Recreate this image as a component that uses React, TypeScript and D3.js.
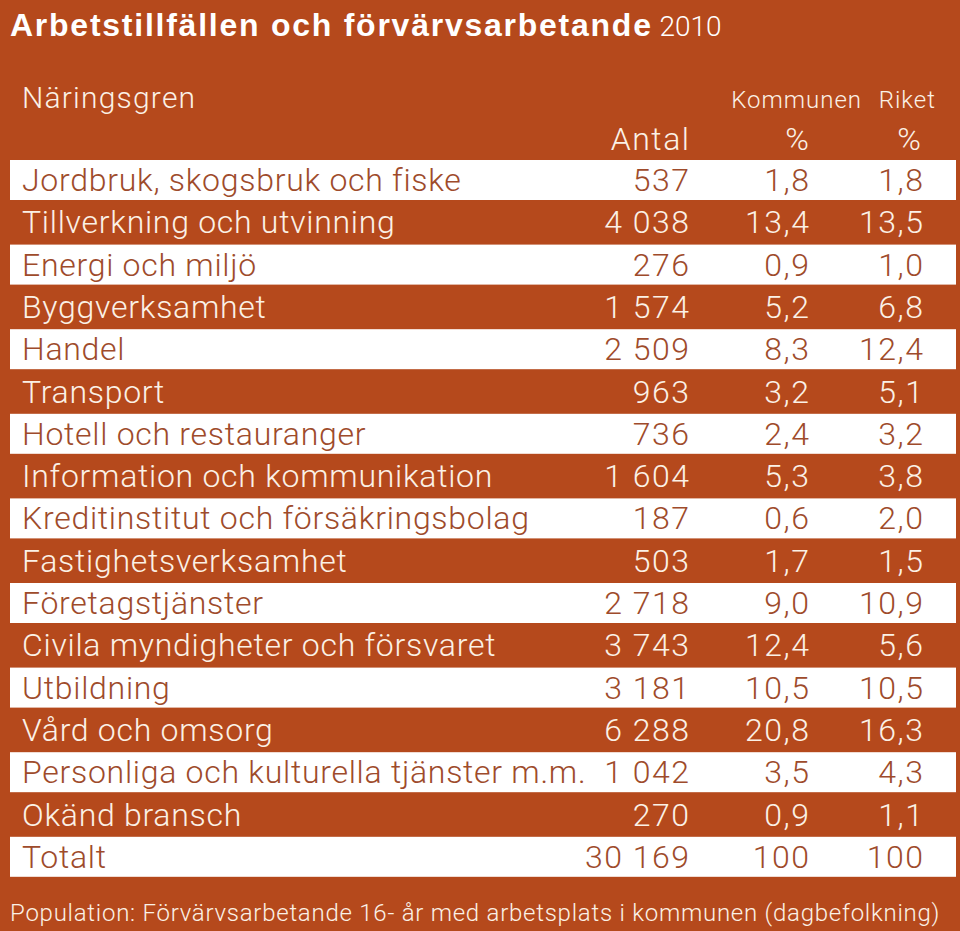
import React from "react";
import * as d3 from "d3";

const categories = [
  "Jordbruk, skogsbruk och fiske",
  "Tillverkning och utvinning",
  "Energi och miljö",
  "Byggverksamhet",
  "Handel",
  "Transport",
  "Hotell och restauranger",
  "Information och kommunikation",
  "Kreditinstitut och försäkringsbolag",
  "Fastighetsverksamhet",
  "Företagstjänster",
  "Civila myndigheter och försvaret",
  "Utbildning",
  "Vård och omsorg",
  "Personliga och kulturella tjänster m.m.",
  "Okänd bransch",
  "Totalt",
];
const antal = [537, 4038, 276, 1574, 2509, 963, 736, 1604, 187, 503, 2718, 3743, 3181, 6288, 1042, 270, 30169];
const kommunenPct = [1.8, 13.4, 0.9, 5.2, 8.3, 3.2, 2.4, 5.3, 0.6, 1.7, 9.0, 12.4, 10.5, 20.8, 3.5, 0.9, 100];
const riketPct = [1.8, 13.5, 1.0, 6.8, 12.4, 5.1, 3.2, 3.8, 2.0, 1.5, 10.9, 5.6, 10.5, 16.3, 4.3, 1.1, 100];

const W = 960;
const H = 931;
const BG = "#B5491C";
const LIGHT = "#FBF1E6";
const DARK = "#9E4B2B";
const FONT = "Roboto, 'Liberation Sans', Arial, sans-serif";
const TITLE_FONT = "'Liberation Sans', Arial, sans-serif";

const fmtInt = (v: number) => d3.format(",d")(v).replace(/,/g, " ");
const fmtPct = (v: number) => (v === 100 ? "100" : d3.format(".1f")(v).replace(".", ","));

export default function App() {
  const y = d3
    .scaleBand<number>()
    .domain(d3.range(categories.length))
    .range([160, 160 + 42.3 * categories.length])
    .paddingInner(0)
    .paddingOuter(0);
  const colX = { name: 22, antal: 690.5, kom: 810.5, rik: 924.5 };
  const body = { fontSize: 32, fontWeight: 300, letterSpacing: 0.72 } as const;
  const numStyle = { fontSize: 32, fontWeight: 300, letterSpacing: 1.5 } as const;

  return (
    <svg
      width={W}
      height={H}
      style={{ position: "absolute", left: 0, top: 0, display: "block" }}
      fontFamily={FONT}
    >
      <rect x={0} y={0} width={W} height={H} fill={BG} />
      <text x={10} y={36} fill="#FFFFFF">
        <tspan fontFamily={TITLE_FONT} fontSize={32} fontWeight={700} letterSpacing={1.75}>
          Arbetstillfällen och förvärvsarbetande
        </tspan>
        <tspan fontFamily={FONT} fontSize={28} fontWeight={300} letterSpacing={0}>
          {" 2010"}
        </tspan>
      </text>
      <text x={colX.name} y={108} fontSize={30} fontWeight={300} letterSpacing={1.2} fill={LIGHT}>
        Näringsgren
      </text>
      <text x={862} y={108} fontSize={24} fontWeight={300} letterSpacing={1} fill={LIGHT} textAnchor="end">
        Kommunen
      </text>
      <text x={936} y={108} fontSize={24} fontWeight={300} letterSpacing={1} fill={LIGHT} textAnchor="end">
        Riket
      </text>
      <text x={colX.antal} y={150} {...numStyle} fill={LIGHT} textAnchor="end">
        Antal
      </text>
      <text x={colX.kom} y={150} {...numStyle} fill={LIGHT} textAnchor="end">
        %
      </text>
      <text x={922.5} y={150} {...numStyle} fill={LIGHT} textAnchor="end">
        %
      </text>
      {categories.map((c, i) => {
        const top = y(i) as number;
        const white = i % 2 === 0;
        const col = white ? DARK : LIGHT;
        const base = top + 31;
        return (
          <g key={c}>
            {white && <rect x={10} y={top} width={946} height={40} fill="#FFFFFF" />}
            <text x={colX.name} y={base} {...body} fill={col}>
              {c}
            </text>
            <text x={colX.antal} y={base} {...numStyle} fill={col} textAnchor="end">
              {fmtInt(antal[i])}
            </text>
            <text x={colX.kom} y={base} {...numStyle} fill={col} textAnchor="end">
              {fmtPct(kommunenPct[i])}
            </text>
            <text x={colX.rik} y={base} {...numStyle} fill={col} textAnchor="end">
              {fmtPct(riketPct[i])}
            </text>
          </g>
        );
      })}
      <text x={10} y={921} fontSize={24} fontWeight={300} letterSpacing={0.75} fill={LIGHT}>
        Population: Förvärvsarbetande 16- år med arbetsplats i kommunen (dagbefolkning)
      </text>
    </svg>
  );
}
